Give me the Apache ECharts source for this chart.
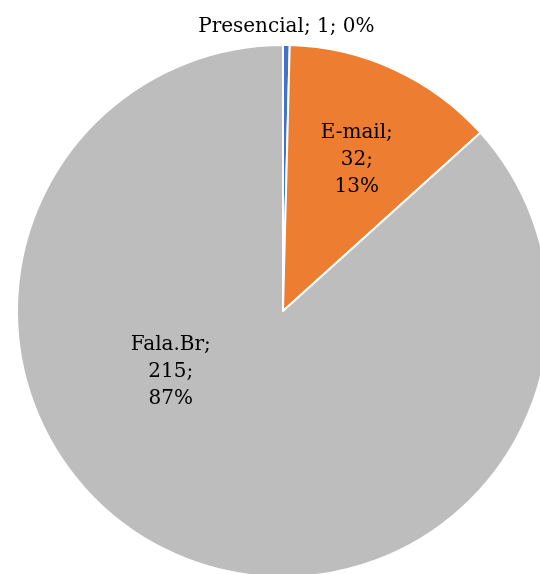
<!DOCTYPE html>
<html>
<head>
<meta charset="utf-8">
<script src="https://cdn.jsdelivr.net/npm/echarts@6/dist/echarts.min.js"></script>
<style>
html,body{margin:0;padding:0;background:#fff;}
#chart{width:540px;height:574px;}
</style>
</head>
<body>
<div id="chart"></div>
<script>
const categories = ['Presencial', 'E-mail', 'Fala.Br'];
const values = [1, 32, 215];
const percents = ['0%', '13%', '87%'];
const colors = ['#4472C4', '#ED7D31', '#BDBDBD'];

const chart = echarts.init(document.getElementById('chart'), null, {renderer: 'canvas'});
const data = categories.map((c, i) => ({
  name: c,
  value: values[i],
  itemStyle: {color: colors[i]},
  label: i === 0
    ? {position: 'outside', formatter: c + '; ' + values[i] + '; ' + percents[i]}
    : {position: 'inside', formatter: c + ';\n' + values[i] + ';\n' + percents[i]},
  labelLine: {show: false}
}));

chart.setOption({
  animation: false,
  series: [{
    type: 'pie',
    center: [283, 311],
    radius: [0, 266],
    startAngle: 90,
    clockwise: true,
    avoidLabelOverlap: false,
    itemStyle: {borderColor: '#ffffff', borderWidth: 2},
    label: {
      show: true,
      color: '#000000',
      fontFamily: 'DejaVu Serif',
      fontSize: 20,
      lineHeight: 27,
      align: 'center'
    },
    labelLine: {show: false, length: 0, length2: 0},
    labelLayout: function (p) {
      if (p.dataIndex === 0) {
        const pt = p.labelLinePoints ? p.labelLinePoints[0] : null;
        if (pt) {
          return {x: pt[0], y: pt[1] - 18, align: 'center', verticalAlign: 'middle'};
        }
        return {};
      }
      if (p.dataIndex === 1) return {dx: 17, dy: -28};
      return {dx: -57, dy: -63};
    },
    data: data
  }]
});
</script>
</body>
</html>
